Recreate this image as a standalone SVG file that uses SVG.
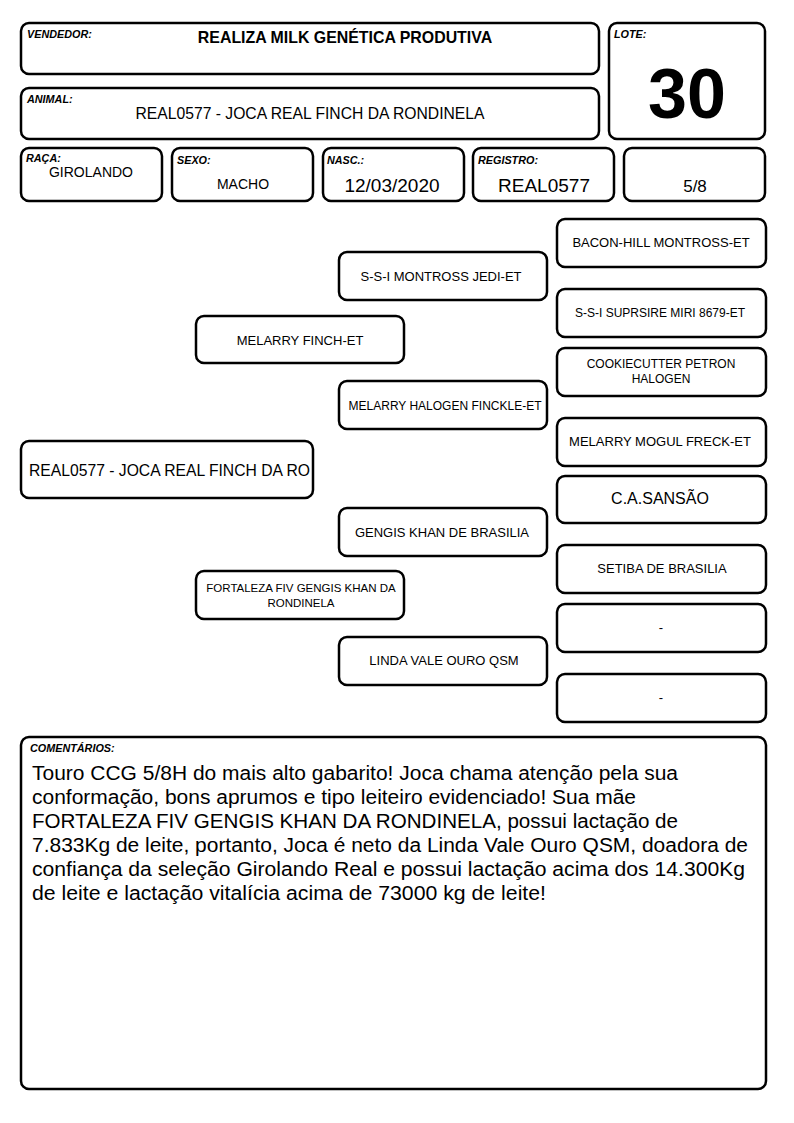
<svg xmlns="http://www.w3.org/2000/svg" width="794" height="1123" viewBox="0 0 794 1123">
<style>
.b{fill:#fff;stroke:#000;stroke-width:2.5}
.lb{font-family:"Liberation Sans",Arial,sans-serif;font-weight:bold;font-style:italic;font-size:10.8px;fill:#000}
.t{font-family:"Liberation Sans",Arial,sans-serif;fill:#000;text-anchor:middle}
.c{font-family:"Liberation Sans",Arial,sans-serif;fill:#000;font-size:20px}
</style>
<rect width="794" height="1123" fill="#fff"/>
<g id="vendedor"><rect class="b" x="21" y="23" width="578" height="51" rx="8"/><text class="lb" x="27" y="38">VENDEDOR:</text><text class="t" x="345" y="43" font-size="15.9" font-weight="bold">REALIZA MILK GENÉTICA PRODUTIVA</text></g>
<g id="lote"><rect class="b" x="609" y="23" width="156" height="116" rx="8"/><text class="lb" x="614" y="38">LOTE:</text><text class="t" x="687" y="118" font-size="70" font-weight="bold">30</text></g>
<g id="animal"><rect class="b" x="21" y="88" width="578" height="51" rx="8"/><text class="lb" x="27" y="103">ANIMAL:</text><text class="t" x="310" y="119" font-size="15.7">REAL0577 - JOCA REAL FINCH DA RONDINELA</text></g>
<g id="raca"><rect class="b" x="21" y="148" width="141" height="53" rx="8"/><text class="lb" x="26" y="162">RAÇA:</text><text class="t" x="91" y="177" font-size="14">GIROLANDO</text></g>
<g id="sexo"><rect class="b" x="172" y="148" width="141" height="53" rx="8"/><text class="lb" x="177" y="164">SEXO:</text><text class="t" x="243" y="189" font-size="14">MACHO</text></g>
<g id="nasc"><rect class="b" x="323" y="148" width="141" height="53" rx="8"/><text class="lb" x="327" y="164">NASC.:</text><text class="t" x="392" y="192" font-size="19">12/03/2020</text></g>
<g id="registro"><rect class="b" x="473" y="148" width="141" height="53" rx="8"/><text class="lb" x="478" y="164">REGISTRO:</text><text class="t" x="544" y="192" font-size="19">REAL0577</text></g>
<g id="grau"><rect class="b" x="624" y="148" width="141" height="53" rx="8"/><text class="t" x="695" y="192" font-size="17">5/8</text></g>
<g id="connectors"></g>
<g id="p-bacon"><rect class="b" x="557" y="219" width="209" height="48" rx="8"/><text class="t" x="661" y="247" font-size="13">BACON-HILL MONTROSS-ET</text></g>
<g id="p-jedi"><rect class="b" x="339" y="252" width="208" height="48" rx="8"/><text class="t" x="441" y="281" font-size="13">S-S-I MONTROSS JEDI-ET</text></g>
<g id="p-miri"><rect class="b" x="557" y="289" width="209" height="48" rx="8"/><text class="t" x="660" y="317" font-size="12">S-S-I SUPRSIRE MIRI 8679-ET</text></g>
<g id="p-finch"><rect class="b" x="196" y="316" width="208" height="47" rx="8"/><text class="t" x="300" y="345" font-size="13">MELARRY FINCH-ET</text></g>
<g id="p-cookie"><rect class="b" x="557" y="348" width="209" height="48" rx="8"/><text class="t" x="661" y="368" font-size="12">COOKIECUTTER PETRON</text><text class="t" x="661" y="383" font-size="12">HALOGEN</text></g>
<g id="p-finckle"><rect class="b" x="339" y="381" width="208" height="48" rx="8"/><text class="t" x="445" y="410" font-size="12">MELARRY HALOGEN FINCKLE-ET</text></g>
<g id="p-mogul"><rect class="b" x="557" y="418" width="209" height="48" rx="8"/><text class="t" x="660" y="446" font-size="13">MELARRY MOGUL FRECK-ET</text></g>
<g id="subject"><rect class="b" x="21" y="441" width="292" height="57" rx="8"/><text x="29" y="476" font-family="Liberation Sans,Arial,sans-serif" font-size="15.7">REAL0577 - JOCA REAL FINCH DA RO</text></g>
<g id="p-sansao"><rect class="b" x="557" y="476" width="209" height="47" rx="8"/><text class="t" x="660" y="504" font-size="16">C.A.SANSÃO</text></g>
<g id="p-gengis"><rect class="b" x="339" y="508" width="208" height="48" rx="8"/><text class="t" x="442" y="537" font-size="13">GENGIS KHAN DE BRASILIA</text></g>
<g id="p-setiba"><rect class="b" x="557" y="545" width="209" height="48" rx="8"/><text class="t" x="662" y="573" font-size="13">SETIBA DE BRASILIA</text></g>
<g id="p-fortaleza"><rect class="b" x="196" y="571" width="208" height="48" rx="8"/><text class="t" x="301" y="592" font-size="11.5">FORTALEZA FIV GENGIS KHAN DA</text><text class="t" x="301" y="607" font-size="11.5">RONDINELA</text></g>
<g id="p-unk1"><rect class="b" x="557" y="604" width="209" height="48" rx="8"/><text class="t" x="661" y="632" font-size="13">-</text></g>
<g id="p-linda"><rect class="b" x="339" y="637" width="208" height="48" rx="8"/><text class="t" x="444" y="665" font-size="13">LINDA VALE OURO QSM</text></g>
<g id="p-unk2"><rect class="b" x="557" y="674" width="209" height="48" rx="8"/><text class="t" x="661" y="702" font-size="13">-</text></g>
<g id="comentarios"><rect class="b" x="21" y="737" width="745" height="352" rx="8"/><text class="lb" x="30" y="752">COMENTÁRIOS:</text>
<text class="c" x="32" y="780" textLength="646" lengthAdjust="spacingAndGlyphs">Touro CCG 5/8H do mais alto gabarito! Joca chama atenção pela sua</text>
<text class="c" x="32" y="804" textLength="604" lengthAdjust="spacingAndGlyphs">conformação, bons aprumos e tipo leiteiro evidenciado! Sua mãe</text>
<text class="c" x="32" y="828" textLength="646" lengthAdjust="spacingAndGlyphs">FORTALEZA FIV GENGIS KHAN DA RONDINELA, possui lactação de</text>
<text class="c" x="32" y="852" textLength="716" lengthAdjust="spacingAndGlyphs">7.833Kg de leite, portanto, Joca é neto da Linda Vale Ouro QSM, doadora de</text>
<text class="c" x="32" y="876" textLength="713" lengthAdjust="spacingAndGlyphs">confiança da seleção Girolando Real e possui lactação acima dos 14.300Kg</text>
<text class="c" x="32" y="900" textLength="514" lengthAdjust="spacingAndGlyphs">de leite e lactação vitalícia acima de 73000 kg de leite!</text>
</g>
</svg>
